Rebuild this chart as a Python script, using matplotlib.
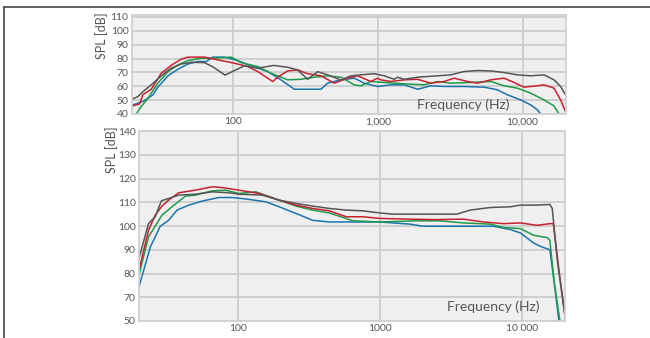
import numpy as np
import matplotlib.pyplot as plt
from matplotlib.lines import Line2D

plt.rcParams['font.family'] = ['Lato', 'DejaVu Sans']

# ---- top chart (in-room response) ----
top_black_f = [20.3, 22, 23.8, 27.2, 31.9, 37.3, 43.8, 51.3, 63.4, 72.4, 88, 102, 119.7, 147.9,
               190.8, 238, 279, 327, 384, 450, 555, 651, 763, 944, 1107, 1297, 1368, 1521,
               1881, 2584, 3192, 3947, 4877, 6026, 7447, 9204, 11376, 14060, 16480, 18310, 19810]
top_black = [50.9, 52.5, 56, 61, 67.5, 73, 76, 77.3, 77, 74, 68, 71.3, 74.7, 73,
             75, 73.7, 71.8, 65, 70.5, 68.2, 64.5, 67.5, 68.2, 69, 67.5, 65, 66.5, 65,
             66.5, 67.5, 68.2, 70.6, 71.3, 71, 69.9, 68.2, 67.5, 68.2, 64.6, 59.8, 53.8]

top_red_f = [20.3, 22.6, 23.8, 27.2, 31.9, 37.3, 43.8, 48.7, 63.4, 74.3, 102, 126.3, 147.9, 173.3,
             187.8, 203, 238, 279, 327, 404, 500, 618, 724, 895, 996, 1049, 1231, 1521,
             1881, 2324, 2872, 3366, 4160, 4877, 6026, 7447, 8730, 10232, 12645, 14060, 16480,
             18310, 19810]
top_red = [45.8, 47.3, 53.8, 57.8, 69.4, 75, 79.5, 81, 81, 79.5, 76.6, 74.2, 70.6, 65.8,
           63.4, 66.5, 71, 71.8, 69, 67.5, 62.2, 65.8, 67.5, 63.4, 65.8, 64.6, 63.4, 64.6,
           65, 62.2, 63.4, 65.8, 63.4, 62.2, 64.6, 65.8, 62.7, 59.3, 60.3, 61, 58.6,
           50.1, 41.7]

top_green_f = [21.4, 23.2, 25.8, 30.2, 35.5, 41.6, 48.7, 60.2, 74.3, 96.9, 113.5, 147.9, 182.7,
               238, 294, 364, 450, 555, 687, 763, 895, 1107, 1521, 2091, 2584, 3192, 4387,
               6026, 7447, 9204, 11376, 14060, 16480, 17830]
top_green = [40, 45.3, 51.3, 62.2, 70.6, 75.4, 78.5, 80.2, 80.2, 81, 77, 74.2, 69.4,
             64.6, 65, 66.5, 67.5, 66.5, 61, 60.3, 63.4, 62.7, 61.7, 61, 63.4, 62.2, 62.7,
             63.4, 60.3, 58.6, 55, 50.1, 45.8, 40]

top_blue_f = [20.3, 23.8, 25.8, 27.9, 30.2, 35.5, 41.6, 48.7, 57.1, 65.2, 72.4, 87.2, 107.7,
              133, 173.3, 214, 265, 364, 404, 450, 555, 687, 806, 996, 1231, 1521, 1881,
              2324, 2872, 3947, 5422, 6700, 7853, 9703, 11376, 12645, 13330]
top_blue = [46.5, 49, 51.3, 53.8, 59.3, 67.5, 72.3, 76, 77.8, 77.8, 81, 81, 78.5,
            74.7, 70.6, 64.6, 57.8, 57.8, 57.8, 62.2, 64.6, 65.8, 62.2, 59.8, 61, 61, 57.8,
            60.3, 59.8, 59.8, 59.3, 57.4, 53.8, 50.1, 46.5, 43, 40]

# ---- bottom chart (max SPL) ----
bot_black_f = [19.8, 23.3, 26.0, 28.7, 32.3, 38.0, 49.9, 65.4, 85.9, 101, 148, 194, 255, 334,
               439, 576, 755, 991, 1232, 1803, 3464, 4302, 5966, 8265, 9722, 12760, 15680,
               16300, 17700, 20260]
bot_black = [85.6, 101, 103.9, 110.6, 111.6, 113, 113.4, 114.4, 114, 113.4, 113, 110.9, 109.5,
             108.4, 107.4, 106.7, 106.4, 105.5, 105, 105, 105, 106.7, 107.8, 108.1, 108.8,
             108.8, 109.1, 107.4, 85.6, 60]

bot_red_f = [19.8, 23.3, 26.0, 29.0, 32.3, 38.0, 49.9, 65.4, 77.0, 101, 140.2, 194, 255, 334,
             439, 576, 755, 991, 1618, 2365, 3858, 5346, 7413, 9722, 12760, 15680, 16580,
             18170, 20260]
bot_red = [80.6, 98.2, 104.6, 108.4, 110.9, 114, 115.1, 116.5, 116.2, 115.1, 113.7, 110.9,
           108.8, 107.4, 106.4, 103.9, 103.9, 103.2, 102.9, 102.7, 102.9, 101.7, 101, 101.3,
           100.3, 101, 101, 81.4, 60]

bot_green_f = [19.8, 23.3, 29.0, 34.1, 42.4, 49.9, 65.4, 81.4, 101, 132.7, 194, 255, 334, 439,
               642, 991, 1803, 2637, 3858, 5966, 7413, 9722, 12070, 15030, 15680, 16750, 18470]
bot_green = [78.5, 95.4, 104.6, 108.1, 112.6, 113, 114.8, 115.1, 113.7, 114.4, 110.9, 108.4,
             106.7, 105.5, 102.2, 101.7, 102.2, 102.2, 101.3, 100.8, 99.4, 98.9, 96.1, 95.1,
             94, 77.2, 60]

bot_blue_f = [19.8, 24.0, 28.2, 32.3, 37.0, 44.8, 55.6, 72.9, 90.7, 112.7, 156.3, 194, 255, 334,
              439, 576, 991, 1618, 2011, 3104, 6300, 8265, 9722, 12070, 13480, 15680, 16750,
              18170]
bot_blue = [73.6, 91.2, 99.9, 102.4, 106.7, 108.8, 110.5, 112, 112, 111.4, 110.2, 108.1, 105.3,
            102.4, 101.7, 101.7, 101.7, 100.8, 99.9, 99.9, 99.9, 98.5, 97.1, 92.8, 91.4, 90,
            77.2, 60]

top_yticks = [40, 50, 60, 70, 80, 90, 100, 110]
bot_yticks = [60, 70, 80, 90, 100, 110, 120, 130, 140]
bot_ylabels = ['50', '70', '80', '90', '100', '110', '120', '130', '140']
xticks = [100, 1000, 10000]
top_xlabels = ['100', '1,000', '10,000']
bot_xlabels = ['100', '1000', '10 000']

c_black = '#555555'
c_red = '#c8202f'
c_green = '#1f9a48'
c_blue = '#1a74b0'
txt = '#555555'

fig = plt.figure(figsize=(6.5, 3.38), dpi=100)
ax1 = fig.add_axes([0.203, 0.663, 0.668, 0.293])
ax2 = fig.add_axes([0.214, 0.0503, 0.655, 0.562])


def style(ax, yticks, ylabels, xlabels, ylim):
    ax.set_facecolor('#efefef')
    ax.set_xscale('log')
    ax.set_xlim(20, 20000)
    ax.set_ylim(*ylim)
    ax.set_yticks(yticks)
    ax.set_yticklabels(ylabels)
    ax.set_xticks(xticks)
    ax.set_xticklabels(xlabels)
    ax.minorticks_off()
    ax.grid(True, color='#cccccc', lw=1.3)
    ax.set_axisbelow(True)
    for s in ax.spines.values():
        s.set_color('#d0d0d0')
        s.set_linewidth(1.3)
    ax.tick_params(length=0, labelsize=7.5, colors=txt, pad=2.5)


style(ax1, top_yticks, [str(v) for v in top_yticks], top_xlabels, (40, 111.5))
style(ax2, bot_yticks, bot_ylabels, bot_xlabels, (60, 140))

lw = 1.1
ax1.plot(top_blue_f, top_blue, color=c_blue, lw=lw)
ax1.plot(top_green_f, top_green, color=c_green, lw=lw)
ax1.plot(top_red_f, top_red, color=c_red, lw=lw)
ax1.plot(top_black_f, top_black, color=c_black, lw=lw)

ax2.plot(bot_blue_f, bot_blue, color=c_blue, lw=lw)
ax2.plot(bot_green_f, bot_green, color=c_green, lw=lw)
ax2.plot(bot_red_f, bot_red, color=c_red, lw=lw)
ax2.plot(bot_black_f, bot_black, color=c_black, lw=lw)

ax1.text(0.869, 0.03, 'Frequency (Hz)', transform=ax1.transAxes, ha='right', va='bottom',
         fontsize=10, color=txt)
ax2.text(0.941, 0.04, 'Frequency (Hz)', transform=ax2.transAxes, ha='right', va='bottom',
         fontsize=10, color=txt)

fig.text(0.157, 0.893, 'SPL [dB]', rotation=90, ha='center', va='center', fontsize=9, color=txt)
fig.text(0.172, 0.556, 'SPL [dB]', rotation=90, ha='center', va='center', fontsize=9, color=txt)

# outer frame (top and left edges)
fig.add_artist(Line2D([4 / 650, 1], [1 - 7 / 338, 1 - 7 / 338], color='#555555', lw=1.3))
fig.add_artist(Line2D([4 / 650, 4 / 650], [0, 1 - 7 / 338], color='#555555', lw=1.3))

fig.savefig('out.png', dpi=100)
